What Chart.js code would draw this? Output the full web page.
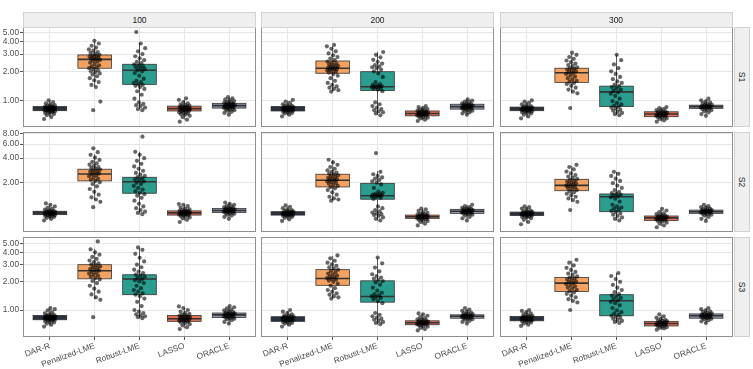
<!DOCTYPE html>
<html>
<head>
<meta charset="utf-8">
<script src="https://cdn.jsdelivr.net/npm/chart.js@4.4.0/dist/chart.umd.min.js"></script>
<style>
  body { margin: 0; background: #fff; font-family: "Liberation Sans", Arial, sans-serif; }
  #wrap { position: relative; width: 753px; height: 369px; overflow: hidden; }
  #wrap canvas { position: absolute; }
  .strip { position: absolute; box-sizing: border-box; background: #efefef; border: 1px solid #d2d2d2;
           color: #1a1a1a; font-size: 8.5px; display: flex; align-items: center; justify-content: center; }
  .strip.side span { display: block; transform: rotate(90deg); }
</style>
</head>
<body>
<div id="wrap"></div>
<script>
// facets
const methods = ['DAR-R', 'Penalized-LME', 'Robust-LME', 'LASSO', 'ORACLE'];
const sizes = ['100', '200', '300'];
const scenarios = ['S1', 'S2', 'S3'];
const fillColors = ['#1e2f47', '#f4a261', '#2a9d8f', '#e76f51', '#8d99ae'];

// y axis (log10) per scenario row
const yTicksS1 = [1, 2, 3, 4, 5];
const yTicksS2 = [2, 4, 6, 8];
const yTicksS3 = [1, 2, 3, 4, 5];
const yLimitsS1 = [0.538, 5.68];
const yLimitsS2 = [0.48, 8.47];
const yLimitsS3 = [0.52, 5.87];

// boxplot stats per method: [lower whisker, q1, median, q3, upper whisker]
const boxS1_100 = [[0.68, 0.79, 0.83, 0.87, 1.00], [1.40, 2.15, 2.65, 2.94, 3.95], [0.82, 1.47, 2.05, 2.36, 3.90], [0.64, 0.785, 0.83, 0.88, 1.03], [0.74, 0.84, 0.89, 0.94, 1.08]];
const boxS1_200 = [[0.70, 0.785, 0.83, 0.87, 1.00], [1.25, 1.91, 2.15, 2.55, 3.60], [0.72, 1.27, 1.39, 1.98, 3.15], [0.63, 0.70, 0.74, 0.785, 0.88], [0.72, 0.82, 0.87, 0.92, 1.03]];
const boxS1_300 = [[0.68, 0.79, 0.83, 0.86, 0.98], [1.19, 1.54, 1.93, 2.15, 3.00], [0.71, 0.87, 1.23, 1.41, 2.95], [0.61, 0.686, 0.73, 0.77, 0.86], [0.72, 0.835, 0.87, 0.90, 1.04]];
const boxS2_100 = [[0.68, 0.79, 0.83, 0.87, 1.05], [1.20, 2.08, 2.54, 2.91, 4.50], [0.82, 1.46, 2.03, 2.31, 4.80], [0.66, 0.78, 0.83, 0.88, 1.05], [0.72, 0.84, 0.89, 0.94, 1.10]];
const boxS2_200 = [[0.68, 0.78, 0.82, 0.86, 1.00], [1.20, 1.75, 2.12, 2.52, 3.80], [0.67, 1.23, 1.36, 1.94, 2.75], [0.60, 0.71, 0.745, 0.78, 0.92], [0.70, 0.82, 0.87, 0.92, 1.04]];
const boxS2_300 = [[0.62, 0.77, 0.81, 0.85, 0.98], [1.14, 1.57, 1.83, 2.18, 3.20], [0.67, 0.86, 1.32, 1.43, 2.70], [0.57, 0.67, 0.72, 0.76, 0.90], [0.68, 0.82, 0.86, 0.90, 1.04]];
const boxS3_100 = [[0.68, 0.79, 0.83, 0.877, 1.04], [1.30, 2.13, 2.59, 3.00, 4.40], [0.82, 1.45, 2.12, 2.35, 4.50], [0.64, 0.76, 0.81, 0.877, 1.05], [0.73, 0.836, 0.89, 0.93, 1.08]];
const boxS3_200 = [[0.68, 0.76, 0.81, 0.85, 0.98], [1.32, 1.82, 2.15, 2.66, 3.70], [0.71, 1.21, 1.39, 2.03, 3.50], [0.62, 0.70, 0.735, 0.77, 0.90], [0.73, 0.82, 0.86, 0.89, 1.03]];
const boxS3_300 = [[0.70, 0.77, 0.82, 0.857, 0.98], [1.20, 1.57, 1.92, 2.20, 3.30], [0.73, 0.87, 1.25, 1.45, 2.45], [0.62, 0.68, 0.72, 0.76, 0.88], [0.73, 0.82, 0.87, 0.91, 1.04]];

// individual replicates per method
const ptsS1_100 = [
  '0.65 0.68 0.71 0.73 0.74 0.75 0.76 0.77 0.78 0.78 0.79 0.79 0.80 0.80 0.81 0.81 0.82 0.82 0.83 0.83 0.84 0.84 0.85 0.85 0.86 0.86 0.87 0.88 0.89 0.90 0.92 0.94 0.97 1.01',
  '0.80 0.98 1.38 1.45 1.55 1.62 1.70 1.78 1.85 1.90 1.95 2.00 2.05 2.10 2.15 2.20 2.25 2.30 2.38 2.45 2.52 2.58 2.62 2.66 2.70 2.74 2.78 2.82 2.86 2.90 2.95 3.00 3.08 3.15 3.25 3.35 3.50 3.65 3.85 4.10',
  '0.80 0.82 0.85 0.88 0.90 0.93 0.96 1.05 1.15 1.25 1.32 1.38 1.42 1.45 1.48 1.52 1.55 1.60 1.68 1.80 1.92 2.00 2.05 2.10 2.15 2.20 2.25 2.30 2.35 2.42 2.50 2.60 2.72 2.85 3.00 3.20 3.45 3.85 5.05',
  '0.61 0.64 0.68 0.70 0.72 0.73 0.74 0.75 0.76 0.77 0.78 0.79 0.80 0.80 0.81 0.82 0.82 0.83 0.84 0.84 0.85 0.86 0.87 0.88 0.89 0.90 0.92 0.94 0.97 1.02 1.06',
  '0.72 0.75 0.77 0.79 0.80 0.81 0.82 0.83 0.84 0.85 0.86 0.86 0.87 0.88 0.88 0.89 0.90 0.90 0.91 0.92 0.93 0.94 0.95 0.96 0.97 0.99 1.01 1.03 1.06 1.09'
];
const ptsS1_200 = [
  '0.69 0.72 0.74 0.75 0.76 0.77 0.78 0.79 0.79 0.80 0.80 0.81 0.81 0.82 0.82 0.83 0.83 0.84 0.84 0.85 0.85 0.86 0.87 0.88 0.89 0.90 0.92 0.95 0.98 1.02',
  '1.24 1.28 1.32 1.36 1.40 1.45 1.52 1.60 1.70 1.80 1.88 1.94 1.98 2.02 2.05 2.08 2.10 2.12 2.15 2.18 2.20 2.23 2.26 2.30 2.35 2.40 2.45 2.52 2.60 2.70 2.80 2.92 3.05 3.20 3.40 3.60 3.72',
  '0.71 0.74 0.76 0.78 0.80 0.82 0.85 0.88 0.92 0.96 1.25 1.30 1.33 1.35 1.37 1.38 1.39 1.40 1.41 1.43 1.45 1.48 1.55 1.75 1.90 2.00 2.08 2.15 2.20 2.25 2.32 2.40 2.50 2.62 2.78 2.95 3.15',
  '0.62 0.64 0.66 0.67 0.68 0.69 0.70 0.71 0.71 0.72 0.72 0.73 0.73 0.74 0.74 0.75 0.75 0.76 0.76 0.77 0.78 0.79 0.80 0.81 0.82 0.84 0.86 0.88',
  '0.72 0.74 0.76 0.78 0.79 0.80 0.81 0.82 0.83 0.84 0.85 0.85 0.86 0.87 0.87 0.88 0.89 0.89 0.90 0.91 0.92 0.93 0.94 0.96 0.98 1.00 1.03'
];
const ptsS1_300 = [
  '0.66 0.69 0.72 0.74 0.75 0.76 0.77 0.78 0.78 0.79 0.80 0.80 0.81 0.81 0.82 0.82 0.83 0.83 0.84 0.84 0.85 0.85 0.86 0.87 0.88 0.90 0.92 0.95 0.98 1.01',
  '0.84 1.19 1.24 1.30 1.36 1.42 1.48 1.52 1.56 1.60 1.65 1.70 1.76 1.82 1.88 1.92 1.96 2.00 2.04 2.08 2.12 2.16 2.20 2.26 2.32 2.40 2.48 2.58 2.68 2.80 2.95 3.10',
  '0.71 0.73 0.75 0.77 0.79 0.81 0.83 0.85 0.87 0.89 0.92 0.95 0.99 1.05 1.12 1.18 1.22 1.26 1.30 1.34 1.38 1.42 1.46 1.52 1.58 1.66 1.75 1.88 2.00 2.15 2.35 2.60 2.95',
  '0.61 0.63 0.65 0.66 0.67 0.68 0.69 0.70 0.70 0.71 0.72 0.72 0.73 0.73 0.74 0.74 0.75 0.76 0.77 0.78 0.79 0.80 0.82 0.84 0.86',
  '0.70 0.73 0.76 0.78 0.80 0.81 0.82 0.83 0.84 0.85 0.86 0.86 0.87 0.88 0.88 0.89 0.90 0.91 0.92 0.94 0.96 0.98 1.01 1.05'
];
const ptsS2_100 = [
  '0.67 0.70 0.72 0.74 0.75 0.76 0.77 0.78 0.78 0.79 0.80 0.80 0.81 0.81 0.82 0.82 0.83 0.83 0.84 0.84 0.85 0.85 0.86 0.87 0.88 0.89 0.91 0.93 0.96 1.00 1.05 1.09',
  '0.98 1.14 1.22 1.30 1.40 1.52 1.65 1.78 1.90 2.00 2.08 2.15 2.22 2.30 2.38 2.45 2.52 2.58 2.64 2.70 2.76 2.82 2.88 2.95 3.02 3.10 3.20 3.32 3.45 3.60 3.80 4.05 4.40 4.75 5.30',
  '0.80 0.83 0.86 0.90 0.95 1.00 1.08 1.18 1.28 1.36 1.42 1.48 1.55 1.62 1.70 1.80 1.90 1.98 2.05 2.12 2.18 2.25 2.32 2.40 2.50 2.62 2.78 2.95 3.15 3.40 3.70 4.00 4.40 4.80 7.40',
  '0.64 0.68 0.71 0.73 0.75 0.76 0.77 0.78 0.79 0.80 0.80 0.81 0.82 0.82 0.83 0.83 0.84 0.85 0.85 0.86 0.87 0.88 0.89 0.90 0.92 0.94 0.97 1.01 1.05 1.07',
  '0.70 0.74 0.77 0.79 0.81 0.82 0.83 0.84 0.85 0.86 0.87 0.88 0.88 0.89 0.89 0.90 0.91 0.92 0.93 0.94 0.95 0.96 0.98 1.00 1.02 1.05 1.08 1.12'
];
const ptsS2_200 = [
  '0.66 0.69 0.72 0.74 0.75 0.76 0.77 0.78 0.78 0.79 0.80 0.80 0.81 0.81 0.82 0.82 0.83 0.83 0.84 0.85 0.85 0.86 0.87 0.88 0.90 0.92 0.95 0.99 1.03',
  '1.18 1.22 1.26 1.32 1.40 1.50 1.60 1.68 1.74 1.80 1.86 1.92 1.97 2.02 2.06 2.10 2.14 2.18 2.22 2.27 2.32 2.38 2.44 2.50 2.56 2.64 2.72 2.82 2.95 3.10 3.30 3.55 3.82',
  '0.67 0.70 0.73 0.76 0.78 0.80 0.82 0.84 0.87 0.90 0.95 1.00 1.24 1.28 1.31 1.33 1.35 1.36 1.37 1.38 1.40 1.42 1.44 1.48 1.53 1.70 1.88 1.98 2.06 2.14 2.22 2.30 2.40 2.52 2.70 4.62',
  '0.58 0.61 0.64 0.66 0.67 0.68 0.69 0.70 0.71 0.72 0.72 0.73 0.73 0.74 0.74 0.75 0.75 0.76 0.76 0.77 0.78 0.79 0.80 0.81 0.83 0.85 0.88 0.92 0.94',
  '0.67 0.71 0.74 0.77 0.79 0.80 0.81 0.82 0.83 0.84 0.85 0.86 0.86 0.87 0.87 0.88 0.89 0.90 0.91 0.92 0.93 0.94 0.96 0.98 1.01 1.05'
];
const ptsS2_300 = [
  '0.60 0.64 0.68 0.71 0.73 0.74 0.75 0.76 0.77 0.77 0.78 0.79 0.79 0.80 0.81 0.81 0.82 0.82 0.83 0.84 0.84 0.85 0.86 0.87 0.89 0.91 0.94 0.98 1.00',
  '0.90 1.14 1.20 1.26 1.32 1.38 1.44 1.50 1.55 1.60 1.65 1.70 1.74 1.78 1.82 1.86 1.90 1.94 1.98 2.03 2.08 2.14 2.20 2.28 2.36 2.46 2.58 2.72 2.90 3.10 3.30',
  '0.67 0.70 0.73 0.76 0.79 0.82 0.85 0.88 0.91 0.94 0.97 1.00 1.05 1.15 1.25 1.30 1.34 1.37 1.40 1.43 1.47 1.52 1.60 1.70 1.82 1.95 2.08 2.22 2.40 2.55 2.70',
  '0.55 0.58 0.61 0.63 0.65 0.66 0.67 0.68 0.69 0.70 0.70 0.71 0.72 0.72 0.73 0.74 0.74 0.75 0.76 0.77 0.78 0.80 0.82 0.85 0.89 0.93',
  '0.66 0.70 0.74 0.77 0.79 0.80 0.81 0.82 0.83 0.84 0.85 0.86 0.86 0.87 0.88 0.88 0.89 0.90 0.91 0.92 0.94 0.96 0.98 1.01 1.05'
];
const ptsS3_100 = [
  '0.67 0.70 0.72 0.74 0.75 0.76 0.77 0.78 0.79 0.79 0.80 0.80 0.81 0.82 0.82 0.83 0.83 0.84 0.84 0.85 0.86 0.86 0.87 0.88 0.89 0.90 0.92 0.95 0.99 1.02 1.05',
  '0.84 1.28 1.36 1.46 1.56 1.68 1.80 1.92 2.02 2.10 2.17 2.24 2.30 2.36 2.42 2.48 2.54 2.60 2.65 2.70 2.76 2.82 2.88 2.95 3.02 3.10 3.20 3.32 3.46 3.62 3.82 4.05 4.35 5.27',
  '0.82 0.84 0.86 0.88 0.90 0.93 0.96 1.00 1.10 1.22 1.32 1.40 1.45 1.50 1.56 1.62 1.70 1.80 1.92 2.00 2.06 2.12 2.18 2.24 2.30 2.36 2.44 2.54 2.66 2.82 3.00 3.25 3.55 3.90 4.30 4.56',
  '0.63 0.66 0.69 0.71 0.73 0.74 0.75 0.76 0.77 0.78 0.79 0.79 0.80 0.81 0.81 0.82 0.83 0.83 0.84 0.85 0.86 0.87 0.88 0.89 0.91 0.93 0.96 1.00 1.05 1.09',
  '0.72 0.75 0.78 0.80 0.81 0.82 0.83 0.84 0.85 0.86 0.87 0.88 0.88 0.89 0.90 0.90 0.91 0.92 0.93 0.94 0.95 0.97 0.99 1.01 1.04 1.07 1.10'
];
const ptsS3_200 = [
  '0.67 0.70 0.72 0.73 0.74 0.75 0.76 0.77 0.78 0.78 0.79 0.80 0.80 0.81 0.81 0.82 0.82 0.83 0.84 0.84 0.85 0.86 0.87 0.88 0.90 0.93 0.96 1.00',
  '1.32 1.36 1.40 1.45 1.50 1.56 1.62 1.70 1.80 1.90 1.98 2.04 2.09 2.13 2.17 2.21 2.25 2.30 2.36 2.42 2.50 2.58 2.66 2.74 2.82 2.92 3.02 3.15 3.30 3.50 3.76',
  '0.71 0.73 0.75 0.77 0.79 0.81 0.83 0.86 0.89 0.93 1.18 1.24 1.30 1.34 1.37 1.40 1.43 1.47 1.52 1.60 1.72 1.85 1.95 2.02 2.08 2.14 2.20 2.28 2.38 2.55 2.80 3.10 3.57',
  '0.61 0.63 0.65 0.67 0.68 0.69 0.70 0.70 0.71 0.72 0.72 0.73 0.73 0.74 0.74 0.75 0.75 0.76 0.77 0.78 0.79 0.80 0.82 0.84 0.87 0.90 0.92',
  '0.72 0.75 0.77 0.79 0.80 0.81 0.82 0.83 0.84 0.85 0.85 0.86 0.86 0.87 0.88 0.88 0.89 0.90 0.91 0.92 0.94 0.96 0.98 1.01 1.05'
];
const ptsS3_300 = [
  '0.68 0.70 0.72 0.74 0.75 0.76 0.77 0.78 0.78 0.79 0.80 0.80 0.81 0.81 0.82 0.82 0.83 0.84 0.84 0.85 0.86 0.87 0.88 0.90 0.92 0.95 0.98 1.00',
  '1.00 1.20 1.25 1.30 1.36 1.42 1.48 1.53 1.58 1.63 1.68 1.73 1.78 1.83 1.88 1.92 1.96 2.00 2.05 2.10 2.15 2.20 2.26 2.34 2.42 2.52 2.64 2.78 2.95 3.15 3.38',
  '0.73 0.75 0.77 0.79 0.81 0.83 0.85 0.87 0.89 0.92 0.95 0.99 1.05 1.12 1.18 1.22 1.26 1.30 1.34 1.38 1.42 1.47 1.54 1.62 1.72 1.84 1.98 2.12 2.28 2.45',
  '0.62 0.64 0.65 0.66 0.67 0.68 0.69 0.70 0.70 0.71 0.72 0.72 0.73 0.73 0.74 0.75 0.76 0.77 0.78 0.79 0.81 0.83 0.86 0.90',
  '0.73 0.76 0.78 0.80 0.81 0.82 0.83 0.84 0.85 0.86 0.86 0.87 0.88 0.88 0.89 0.90 0.91 0.92 0.93 0.95 0.97 0.99 1.02 1.05'
];

const boxGrid = [[boxS1_100, boxS1_200, boxS1_300], [boxS2_100, boxS2_200, boxS2_300], [boxS3_100, boxS3_200, boxS3_300]];
const ptsGrid = [[ptsS1_100, ptsS1_200, ptsS1_300], [ptsS2_100, ptsS2_200, ptsS2_300], [ptsS3_100, ptsS3_200, ptsS3_300]];
const yTicksRows = [yTicksS1, yTicksS2, yTicksS3];
const yLimitsRows = [yLimitsS1, yLimitsS2, yLimitsS3];

// layout of the facet grid (page pixels)
const panelLeft = [23, 261, 499.5];
const panelTop = [27, 132, 237];
const panelW = 233, panelH = 100;
const yAxisW = 23, xAxisH = 32, topPad = 6;
const FONT = '"Liberation Sans", Arial, sans-serif';
const BOX_HALF = 0.375, JITTER = 0.13;

const wrap = document.getElementById('wrap');

// ggplot-style boxes, drawn under the points
const boxPlugin = {
  id: 'boxes',
  beforeDatasetsDraw(chart, args, opts) {
    const { ctx, scales: { x, y } } = chart;
    ctx.save();
    opts.stats.forEach((s, i) => {
      const cx = x.getPixelForValue(i + 1);
      const x0 = x.getPixelForValue(i + 1 - BOX_HALF);
      const x1 = x.getPixelForValue(i + 1 + BOX_HALF);
      const [lo, q1, med, q3, hi] = s.map(v => y.getPixelForValue(v));
      ctx.strokeStyle = '#333333';
      ctx.lineWidth = 0.8;
      ctx.beginPath();
      ctx.moveTo(cx, lo); ctx.lineTo(cx, q1);
      ctx.moveTo(cx, q3); ctx.lineTo(cx, hi);
      ctx.stroke();
      ctx.fillStyle = fillColors[i];
      ctx.fillRect(x0, q3, x1 - x0, q1 - q3);
      ctx.strokeRect(x0, q3, x1 - x0, q1 - q3);
      ctx.lineWidth = 1.6;
      ctx.beginPath();
      ctx.moveTo(x0, med); ctx.lineTo(x1, med);
      ctx.stroke();
    });
    ctx.restore();
  },
  afterDraw(chart) {
    const { ctx, chartArea: a } = chart;
    ctx.save();
    ctx.strokeStyle = '#8f8f8f';
    ctx.lineWidth = 1;
    ctx.strokeRect(Math.round(a.left) + 0.5, Math.round(a.top) + 0.5, Math.round(a.right - a.left) - 1, Math.round(a.bottom - a.top) - 1);
    ctx.restore();
  }
};

function makePanel(r, c) {
  const left = c === 0;
  const bottom = r === 2;
  // left column canvases reach a little above the panel so the top tick label is not cut
  const pad = left ? topPad : 0;
  const cx = left ? panelLeft[c] - yAxisW : panelLeft[c];
  const w = panelW + (left ? yAxisW : 0);
  const h = panelH + pad + (bottom ? xAxisH : 0);

  const canvas = document.createElement('canvas');
  canvas.width = w; canvas.height = h;
  canvas.style.left = cx + 'px'; canvas.style.top = (panelTop[r] - pad) + 'px';
  canvas.style.width = w + 'px'; canvas.style.height = h + 'px';
  wrap.appendChild(canvas);

  const points = [];
  ptsGrid[r][c].forEach((str, i) => {
    str.trim().split(/\s+/).map(Number).forEach((v, j) => {
      const u = ((j * 0.618034 + i * 0.37) % 1) - 0.5;
      points.push({ x: i + 1 + u * 2 * JITTER, y: v });
    });
  });

  new Chart(canvas, {
    type: 'scatter',
    data: {
      datasets: [{
        data: points,
        pointRadius: 2.1,
        pointHoverRadius: 2.1,
        pointBorderWidth: 0,
        backgroundColor: 'rgba(0,0,0,0.6)'
      }]
    },
    options: {
      responsive: false,
      animation: false,
      events: [],
      devicePixelRatio: 1,
      layout: { padding: { top: pad, left: 0, right: 0, bottom: 0 }, autoPadding: false },
      plugins: {
        legend: { display: false },
        tooltip: { enabled: false },
        boxes: { stats: boxGrid[r][c] }
      },
      scales: {
        x: {
          type: 'linear', min: 0.4, max: 5.6,
          afterBuildTicks: s => { s.ticks = methods.map((m, i) => ({ value: i + 1 })); },
          afterFit: s => { s.height = bottom ? xAxisH : 0; s.paddingLeft = 0; s.paddingRight = 0; },
          ticks: {
            display: bottom, autoSkip: false, maxRotation: 20, minRotation: 20, padding: 1,
            color: '#4d4d4d', font: { family: FONT, size: 8.3 },
            callback: (v, i) => methods[i]
          },
          grid: { color: '#e6e6e6', lineWidth: 1, drawTicks: bottom, tickLength: 3, tickColor: '#555555' },
          border: { display: false }
        },
        y: {
          type: 'logarithmic', min: yLimitsRows[r][0], max: yLimitsRows[r][1],
          afterBuildTicks: s => { s.ticks = yTicksRows[r].map(v => ({ value: v })); },
          afterFit: s => { s.width = left ? yAxisW : 0; s.paddingTop = 0; s.paddingBottom = 0; },
          ticks: {
            display: left, padding: 1,
            color: '#4d4d4d', font: { family: FONT, size: 8.3 },
            callback: v => Number(v).toFixed(2)
          },
          grid: { color: '#e6e6e6', lineWidth: 1, drawTicks: left, tickLength: 3, tickColor: '#555555' },
          border: { display: false }
        }
      }
    },
    plugins: [boxPlugin]
  });
}

function makeStrip(text, x, y, w, h, side) {
  const d = document.createElement('div');
  d.className = 'strip' + (side ? ' side' : '');
  d.style.left = x + 'px'; d.style.top = y + 'px';
  d.style.width = w + 'px'; d.style.height = h + 'px';
  const s = document.createElement('span');
  s.textContent = text;
  d.appendChild(s);
  wrap.appendChild(d);
}

for (let r = 0; r < 3; r++) {
  for (let c = 0; c < 3; c++) makePanel(r, c);
}
sizes.forEach((s, c) => makeStrip(s, panelLeft[c], 12, panelW, 15.5, false));
scenarios.forEach((s, r) => makeStrip(s, 734, panelTop[r], 16, panelH, true));
</script>
</body>
</html>
